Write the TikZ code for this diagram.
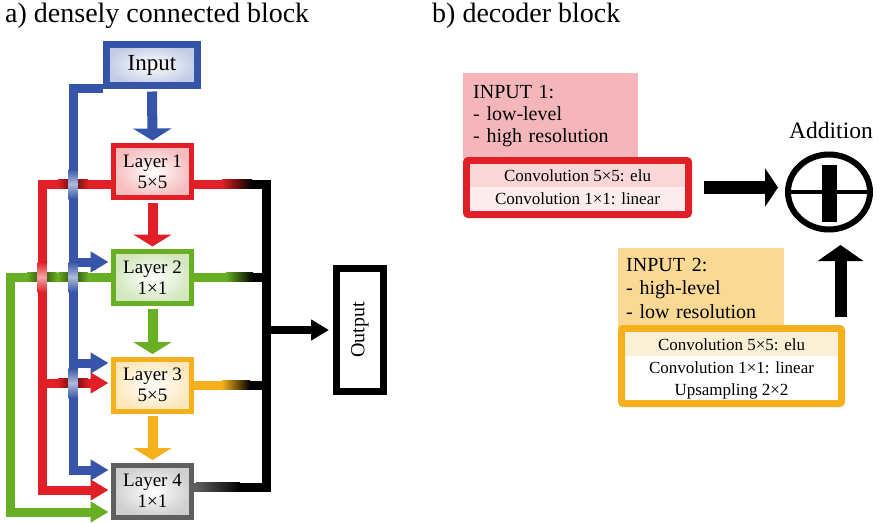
\documentclass[tikz,border=0pt]{standalone}
\usepackage{fontspec}
\setmainfont{Liberation Serif}
\usetikzlibrary{arrows.meta,calc,shapes.geometric}
\definecolor{cblue}{RGB}{55,85,168}
\definecolor{cred}{RGB}{224,32,38}
\definecolor{cgreen}{RGB}{105,175,35}
\definecolor{corange}{RGB}{245,176,28}
\definecolor{cgray}{RGB}{95,95,95}
\definecolor{pinkfill}{RGB}{244,182,186}
\definecolor{rowpink}{RGB}{249,214,216}
\definecolor{rowpale}{RGB}{252,236,237}
\definecolor{yelfill}{RGB}{250,217,148}
\definecolor{rowbeige}{RGB}{251,240,214}

\begin{document}
\begin{tikzpicture}[x=1pt,y=-1pt,
 lyr/.style={draw=#1,line width=5,inner color=white,outer color=#1!30,minimum width=78,minimum height=52,inner sep=0,align=center,font=\fontsize{19}{21}\selectfont},
 downarr/.style={line width=10,#1,shorten <=2.5,shorten >=2.5,-{Triangle[length=12pt,width=38pt]}},
 sidearr/.style={line width=9,#1,-{Triangle[length=18pt,width=20pt]}},
 convrow/.style={minimum height=23,minimum width=213,inner sep=0,font=\fontsize{17}{19}\selectfont},
 note/.style={anchor=north west,inner xsep=10,inner ysep=0,align=left,font=\fontsize{20}{22}\selectfont}]
 \useasboundingbox (0,0) rectangle (880,522);
 \node[anchor=base west,inner sep=0,font=\fontsize{28}{32}\selectfont] (ta) at (5,23) {a) densely connected block};
 \node[anchor=base west,inner sep=0,font=\fontsize{28}{32}\selectfont] (tb) at (432,23) {b) decoder block};
 \node[draw=cblue,line width=7,inner color=white,outer color=cblue!30,minimum width=91,minimum height=41,inner sep=0,font=\fontsize{23}{25}\selectfont] (in) at (152,65) {Input};
 \node[lyr=cred] (l1) at (152.5,171.5) {Layer 1\\5×5};
 \node[lyr=cgreen] (l2) at (152.5,277.5) {Layer 2\\1×1};
 \node[lyr=corange] (l3) at (152.5,385) {Layer 3\\5×5};
 \node[lyr=cgray] (l4) at (152.5,491) {Layer 4\\1×1};
 \node[draw,line width=7,minimum width=47,minimum height=123,inner sep=0] (out) at (360,330) {};
 \node[rotate=90,font=\fontsize{20}{22}\selectfont] (outtxt) at (out) {Output};
 \coordinate (bx) at (73,0); \coordinate (rx) at (42,0); \coordinate (gx) at (10,0);
 \coordinate (b2) at ($(l2.west)+(-2.5,-15.5)$); \coordinate (b3) at ($(l3.west)+(-2.5,-22)$);
 \coordinate (b4) at ($(l4.west)+(-2.5,-21)$); \coordinate (r3) at ($(l3.west)+(-2.5,-2)$);
 \coordinate (r4) at ($(l4.west)+(-2.5,-1)$); \coordinate (g4) at ($(l4.west)+(-2.5,21)$);
 \draw[sidearr=cgreen] (l2.west) -| (gx |- g4) -- (g4);
 \draw[sidearr=cred] ($(l1.west)+(0,12.5)$) -| (rx |- r4) -- (r4);
 \draw[sidearr=cred] (rx |- r3) -- (r3);
 \draw[sidearr=cblue] ($(in.south west)+(0,-1)$) -| (bx |- b4) -- (b4);
 \draw[sidearr=cblue] (bx |- b2) -- (b2);
 \draw[sidearr=cblue] (bx |- b3) -- (b3);
 \foreach \x/\y/\h in {73/184/cred,73/277/cgreen,42/277/cgreen,73/383/cred}
  \fill[left color=\h,right color=\h,middle color=\h!40!black] (\x-15,\y-4.5) rectangle (\x+15,\y+4.5);
 \foreach \x/\y/\v in {73/184/cblue,73/277/cblue,42/277/cred,73/383/cblue}
  \fill[top color=\v,bottom color=\v,middle color=\v!40!white] (\x-4.5,\y-15) rectangle (\x+4.5,\y+15);
 \draw[downarr=cblue] (in.south) -- (l1.north);
 \draw[downarr=cred] (l1.south) -- (l2.north);
 \draw[downarr=cgreen] (l2.south) -- (l3.north);
 \draw[downarr=corange] (l3.south) -- (l4.north);
 \foreach \n/\c/\y/\a/\b in {l1/cred/184/222/252,l2/cgreen/277/226/253,l3/corange/385/222/250,l4/cgray/487/196/240}{
  \draw[\c,line width=9] (\n.east |- 0,\y) -- (\a,\y);
  \fill[left color=\c,right color=black] (\a,\y-4.5) rectangle (\b,\y+4.5);
  \draw[line width=9] (\b,\y) -- (266,\y);
 }
 \draw[line width=9] (266,179.5) -- (266,491.5);
 \coordinate (bus) at (266,330);
 \draw[line width=8,shorten >=4,-{Triangle[length=18pt,width=20pt]}] (bus) -- (out.west);
 \node[note,fill=pinkfill,minimum width=175,minimum height=86,text width=155] (i1) at (463,73) {INPUT 1:\\- low-level\\- high resolution};
 \node[draw=cred,line width=7,rounded corners=2,fill=white,minimum width=222,minimum height=54,inner sep=0] (c1) at (577.5,187.5) {};
 \node[convrow,fill=rowpink,minimum width=215] (c1a) at (577.5,175.5) {Convolution 5×5: elu};
 \node[convrow,fill=rowpale,minimum width=215,minimum height=24] (c1b) at (577.5,199) {Convolution 1×1: linear};
 \node[note,fill=yelfill,minimum width=166,minimum height=80,text width=150,inner xsep=8,font=\fontsize{20}{23.5}\selectfont] (i2) at (618,248) {INPUT 2:\\- high-level\\- low resolution};
 \node[draw=corange,line width=7,rounded corners=2,fill=white,minimum width=220,minimum height=75,inner sep=0] (c2) at (731.5,366) {};
 \node[convrow,fill=rowbeige] (c2a) at (731.5,344.5) {Convolution 5×5: elu};
 \node[convrow] (c2b) at (731.5,368) {Convolution 1×1: linear};
 \node[convrow] (c2c) at (731.5,391) {Upsampling 2×2};
 \node[ellipse,draw,line width=6,minimum width=82,minimum height=75,inner sep=0] (add) at (829,192) {};
 \fill ($(add.center)+(-7.5,-27)$) rectangle ($(add.center)+(7.5,30)$);
 \draw[line width=4,shorten <=4,shorten >=3] (add.west) -- (add.east);
 \node[anchor=base,inner sep=0,font=\fontsize{23.5}{26}\selectfont] (addlbl) at (831,138) {Addition};
 \draw[line width=13,shorten <=11.5,shorten >=7,-{Triangle[length=13pt,width=38pt]}] (c1.east) -- (c1.east -| add.west);
 \coordinate (upfoot) at ($(c2.north east)+(-4.5,-8.5)$);
 \draw[line width=12,shorten >=12.5,-{Triangle[length=16pt,width=45pt]}] (upfoot) -- (upfoot |- add.south);
\end{tikzpicture}
\end{document}
